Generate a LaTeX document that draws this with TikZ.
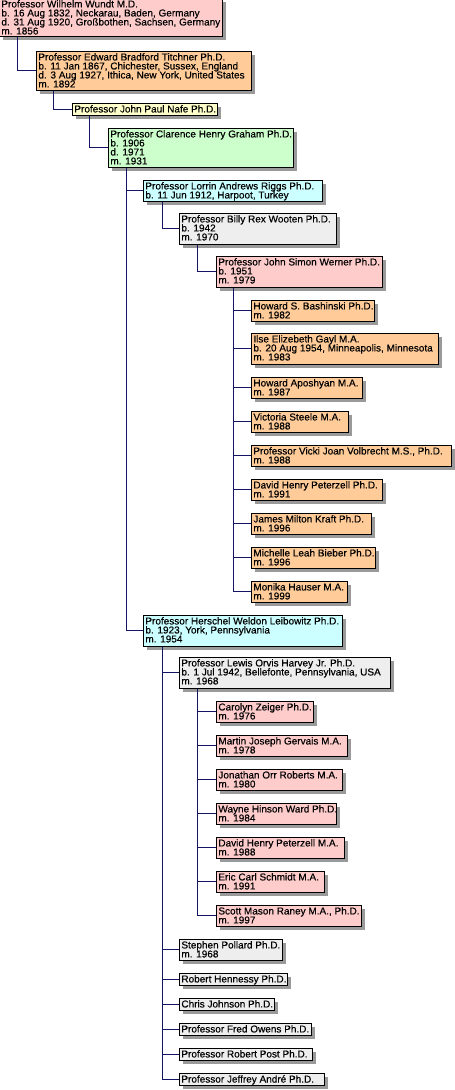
\documentclass[tikz,border=0pt]{standalone}
\usepackage{fontspec}
\setmainfont{Liberation Sans}[FakeBold=0.4]
\usetikzlibrary{shadows,calc}
\definecolor{cpink}{HTML}{FFCCCC}
\definecolor{corange}{HTML}{FFCC99}
\definecolor{cyellow}{HTML}{FFFFCC}
\definecolor{cgreen}{HTML}{CCFFCC}
\definecolor{ccyan}{HTML}{CCFFFF}
\definecolor{cgray}{HTML}{EEEEEE}
\definecolor{cnavy}{RGB}{20,20,100}
\definecolor{cshadow}{HTML}{9A9A9A}
\newcommand\gfont{\fontsize{10bp}{9bp}\selectfont\lineskiplimit=-20bp\relax}
\newcommand\gline[1]{\hbox{#1}}
\tikzset{
  pbox/.style={draw=black, line width=0.8bp, anchor=north west, rectangle,
    inner xsep=2bp, inner ysep=0.5bp, font=\gfont,
    drop shadow={shadow xshift=4bp, shadow yshift=-4bp, fill=cshadow, opacity=1}},
  conn/.style={draw=cnavy, line width=1bp}
}
\newcommand\gnode[7]{\node[pbox, fill=#2, minimum height=#6bp] (#1) at (#3,#4)
  {\makebox[\fpeval{#5-4}bp][l]{\vbox to \fpeval{#6-1}bp{\kern1.3bp #7\vss}}};}
\begin{document}
\begin{tikzpicture}[x=1bp,y=-1bp]
\useasboundingbox (0,0) rectangle (455,1090);
\fill[white] (0,0) rectangle (455,1090);
% nodes
\gnode{wundt}{cpink}{-1}{-2}{223}{38}{\gline{Professor Wilhelm Wundt M.D.}\gline{b. 16 Aug 1832, Neckarau, Baden, Germany}\gline{d. 31 Aug 1920, Großbothen, Sachsen, Germany}\gline{m. 1856}}
\gnode{titchner}{corange}{36}{51}{215}{39}{\gline{Professor Edward Bradford Titchner Ph.D.}\gline{b. 11 Jan 1867, Chichester, Sussex, England}\gline{d. 3 Aug 1927, Ithica, New York, United States}\gline{m. 1892}}
\gnode{nafe}{cyellow}{72}{103}{145}{12}{\gline{Professor John Paul Nafe Ph.D.}}
\gnode{graham}{cgreen}{108}{128}{185}{39}{\gline{Professor Clarence Henry Graham Ph.D.}\gline{b. 1906}\gline{d. 1971}\gline{m. 1931}}
\gnode{riggs}{ccyan}{143}{180}{179}{21}{\gline{Professor Lorrin Andrews Riggs Ph.D.}\gline{b. 11 Jun 1912, Harpoot, Turkey}}
\gnode{wooten}{cgray}{179}{213}{157}{31}{\gline{Professor Billy Rex Wooten Ph.D.}\gline{b. 1942}\gline{m. 1970}}
\gnode{werner}{cpink}{216}{256}{166}{31}{\gline{Professor John Simon Werner Ph.D.}\gline{b. 1951}\gline{m. 1979}}
\gnode{bashinski}{corange}{251}{300}{123}{21}{\gline{Howard S. Bashinski Ph.D.}\gline{m. 1982}}
\gnode{gayl}{corange}{251}{333}{187}{31}{\gline{Ilse Elizebeth Gayl M.A.}\gline{b. 20 Aug 1954, Minneapolis, Minnesota}\gline{m. 1983}}
\gnode{aposhyan}{corange}{251}{377}{111}{21}{\gline{Howard Aposhyan M.A.}\gline{m. 1987}}
\gnode{steele}{corange}{251}{411}{97}{21}{\gline{Victoria Steele M.A.}\gline{m. 1988}}
\gnode{volbrecht}{corange}{251}{445}{200}{21}{\gline{Professor Vicki Joan Volbrecht M.S., Ph.D.}\gline{m. 1988}}
\gnode{peterzella}{corange}{251}{479}{131}{21}{\gline{David Henry Peterzell Ph.D.}\gline{m. 1991}}
\gnode{kraft}{corange}{251}{513}{120}{21}{\gline{James Milton Kraft Ph.D.}\gline{m. 1996}}
\gnode{bieber}{corange}{251}{547}{124}{21}{\gline{Michelle Leah Bieber Ph.D.}\gline{m. 1996}}
\gnode{hauser}{corange}{251}{581}{96}{21}{\gline{Monika Hauser M.A.}\gline{m. 1999}}
\gnode{leibowitz}{ccyan}{143}{615}{199}{31}{\gline{Professor Herschel Weldon Leibowitz Ph.D.}\gline{b. 1923, York, Pennsylvania}\gline{m. 1954}}
\gnode{harvey}{cgray}{179}{657}{211}{31}{\gline{Professor Lewis Orvis Harvey Jr. Ph.D.}\gline{b. 1 Jul 1942, Bellefonte, Pennsylvania, USA}\gline{m. 1968}}
\gnode{zeiger}{cpink}{216}{701}{97}{21}{\gline{Carolyn Zeiger Ph.D.}\gline{m. 1976}}
\gnode{gervais}{cpink}{216}{735}{131}{21}{\gline{Martin Joseph Gervais M.A.}\gline{m. 1978}}
\gnode{roberts}{cpink}{216}{769}{126}{21}{\gline{Jonathan Orr Roberts M.A.}\gline{m. 1980}}
\gnode{ward}{cpink}{216}{803}{120}{21}{\gline{Wayne Hinson Ward Ph.D.}\gline{m. 1984}}
\gnode{peterzellb}{cpink}{216}{837}{128}{21}{\gline{David Henry Peterzell M.A.}\gline{m. 1988}}
\gnode{schmidt}{cpink}{216}{871}{108}{21}{\gline{Eric Carl Schmidt M.A.}\gline{m. 1991}}
\gnode{raney}{cpink}{216}{905}{145}{21}{\gline{Scott Mason Raney M.A., Ph.D.}\gline{m. 1997}}
\gnode{pollard}{cgray}{179}{939}{103}{21}{\gline{Stephen Pollard Ph.D.}\gline{m. 1968}}
\gnode{hennessy}{cgray}{179}{973}{108}{12}{\gline{Robert Hennessy Ph.D.}}
\gnode{johnson}{cgray}{179}{998}{95}{12}{\gline{Chris Johnson Ph.D.}}
\gnode{owens}{cgray}{179}{1023}{132}{12}{\gline{Professor Fred Owens Ph.D.}}
\gnode{post}{cgray}{179}{1048}{133}{12}{\gline{Professor Robert Post Ph.D.}}
\gnode{andre}{cgray}{179}{1073}{145}{12}{\gline{Professor Jeffrey André Ph.D.}}
% connectors
\draw[conn] ($(wundt.south west)+(18,0)$) |- (titchner.west);
\draw[conn] ($(titchner.south west)+(17,0)$) |- (nafe.west);
\draw[conn] ($(nafe.south west)+(17,0)$) |- (graham.west);
\foreach \c in {riggs,leibowitz}
  \draw[conn] ($(graham.south west)+(18,0)$) |- (\c.west);
\draw[conn] ($(riggs.south west)+(19,0)$) |- (wooten.west);
\draw[conn] ($(wooten.south west)+(18,0)$) |- (werner.west);
\foreach \c in {bashinski,gayl,aposhyan,steele,volbrecht,peterzella,kraft,bieber,hauser}
  \draw[conn] ($(werner.south west)+(17,0)$) |- (\c.west);
\foreach \c in {harvey,pollard,hennessy,johnson,owens,post,andre}
  \draw[conn] ($(leibowitz.south west)+(19,0)$) |- (\c.west);
\foreach \c in {zeiger,gervais,roberts,ward,peterzellb,schmidt,raney}
  \draw[conn] ($(harvey.south west)+(18,0)$) |- (\c.west);
\end{tikzpicture}
\end{document}
